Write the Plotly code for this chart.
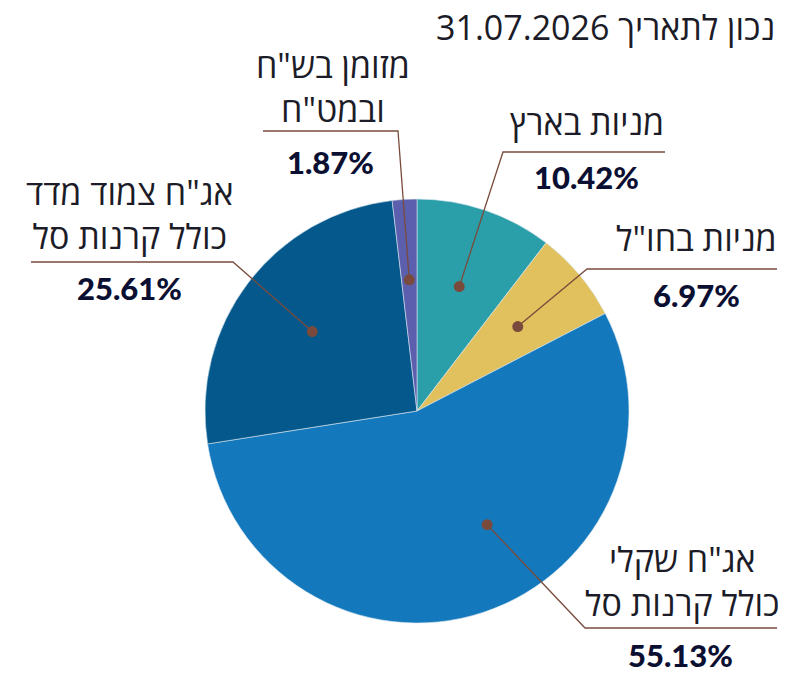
import math
import plotly.graph_objects as go

# ---------------- data ----------------
categories = ['מניות בארץ', 'מניות בחו"ל', 'אג"ח שקלי<br>כולל קרנות סל',
              'אג"ח צמוד מדד<br>כולל קרנות סל', 'מזומן בש"ח<br>ובמט"ח']
values = [10.42, 6.97, 55.13, 25.61, 1.87]
pct_labels = ['10.42%', '6.97%', '55.13%', '25.61%', '1.87%']
title_text = '31.07.2026 נכון לתאריך'

# ---------------- style ----------------
colors = ['#2b9fa9', '#e1c15e', '#1479bc', '#04588b', '#5b5fae']
W, H = 787, 677
cx, cy, R = 417, 411, 212          # pie centre / radius in pixels
line_col = '#7a4b3c'
label_font = dict(family='Open Sans', size=34, color='#1c1c28', weight=380)
pct_font = dict(family='Lato', size=31, color='#0b1033', weight=900)

# per-slice callout layout (pixels)
callouts = [
    dict(frac=0.62, shift=0,     elbow=(503, 152), end=665, lx=587, ly=122, px=586, py=177),
    dict(frac=0.62, shift=0,     elbow=(587, 269), end=777, lx=696, ly=238, px=696, py=295),
    dict(frac=0.63, shift=-13.5, elbow=(585, 628), end=777, lx=682, ly=581, px=680, py=655),
    dict(frac=0.62, shift=0,     elbow=(233, 262), end=31,  lx=130, ly=214, px=129, py=288),
    dict(frac=0.62, shift=0,     elbow=(398, 131), end=263, lx=333, ly=87,  px=330, py=162),
]

def px2x(p):
    return p / W

def px2y(p):
    return 1 - p / H

fig = go.Figure(go.Pie(
    labels=categories, values=values, sort=False, direction='clockwise',
    rotation=0, marker=dict(colors=colors, line=dict(color='#d8e6f0', width=0.6)),
    textinfo='none', hoverinfo='label+percent', showlegend=False,
    domain=dict(x=[px2x(cx - R), px2x(cx + R)], y=[px2y(cy + R), px2y(cy - R)]),
))

shapes, annotations = [], []
total = sum(values)
cum = 0.0
for v, cat, pct, c in zip(values, categories, pct_labels, callouts):
    mid = (cum + v / 2) / total * 360 + c['shift']
    cum += v
    a = math.radians(mid)
    dx = cx + c['frac'] * R * math.sin(a)
    dy = cy - c['frac'] * R * math.cos(a)
    ex, ey = c['elbow']
    shapes.append(dict(type='path', xref='paper', yref='paper',
                       path=f"M {px2x(dx)},{px2y(dy)} L {px2x(ex)},{px2y(ey)} L {px2x(c['end'])},{px2y(ey)}",
                       line=dict(color=line_col, width=1.3)))
    rr = 5.5
    shapes.append(dict(type='circle', xref='paper', yref='paper',
                       x0=px2x(dx - rr), x1=px2x(dx + rr), y0=px2y(dy + rr), y1=px2y(dy - rr),
                       fillcolor=line_col, line=dict(width=0)))
    annotations.append(dict(text=cat, x=px2x(c['lx']), y=px2y(c['ly']),
                            xref='paper', yref='paper', xanchor='center', yanchor='middle',
                            align='center', showarrow=False, font=label_font))
    annotations.append(dict(text=pct, x=px2x(c['px']), y=px2y(c['py']), xref='paper', yref='paper',
                            xanchor='center', yanchor='middle', showarrow=False, font=pct_font))

annotations.append(dict(text=title_text, x=px2x(777), y=px2y(27), xref='paper', yref='paper',
                        xanchor='right', yanchor='middle', showarrow=False,
                        font=dict(family='Open Sans', size=34, color='#1c1c28', weight=380)))

fig.update_layout(width=W, height=H, margin=dict(l=0, r=0, t=0, b=0),
                  paper_bgcolor='white', plot_bgcolor='white',
                  shapes=shapes, annotations=annotations)

fig.write_html('out.html', config=dict(displayModeBar=False),
               post_script="document.body.style.margin='0';")
